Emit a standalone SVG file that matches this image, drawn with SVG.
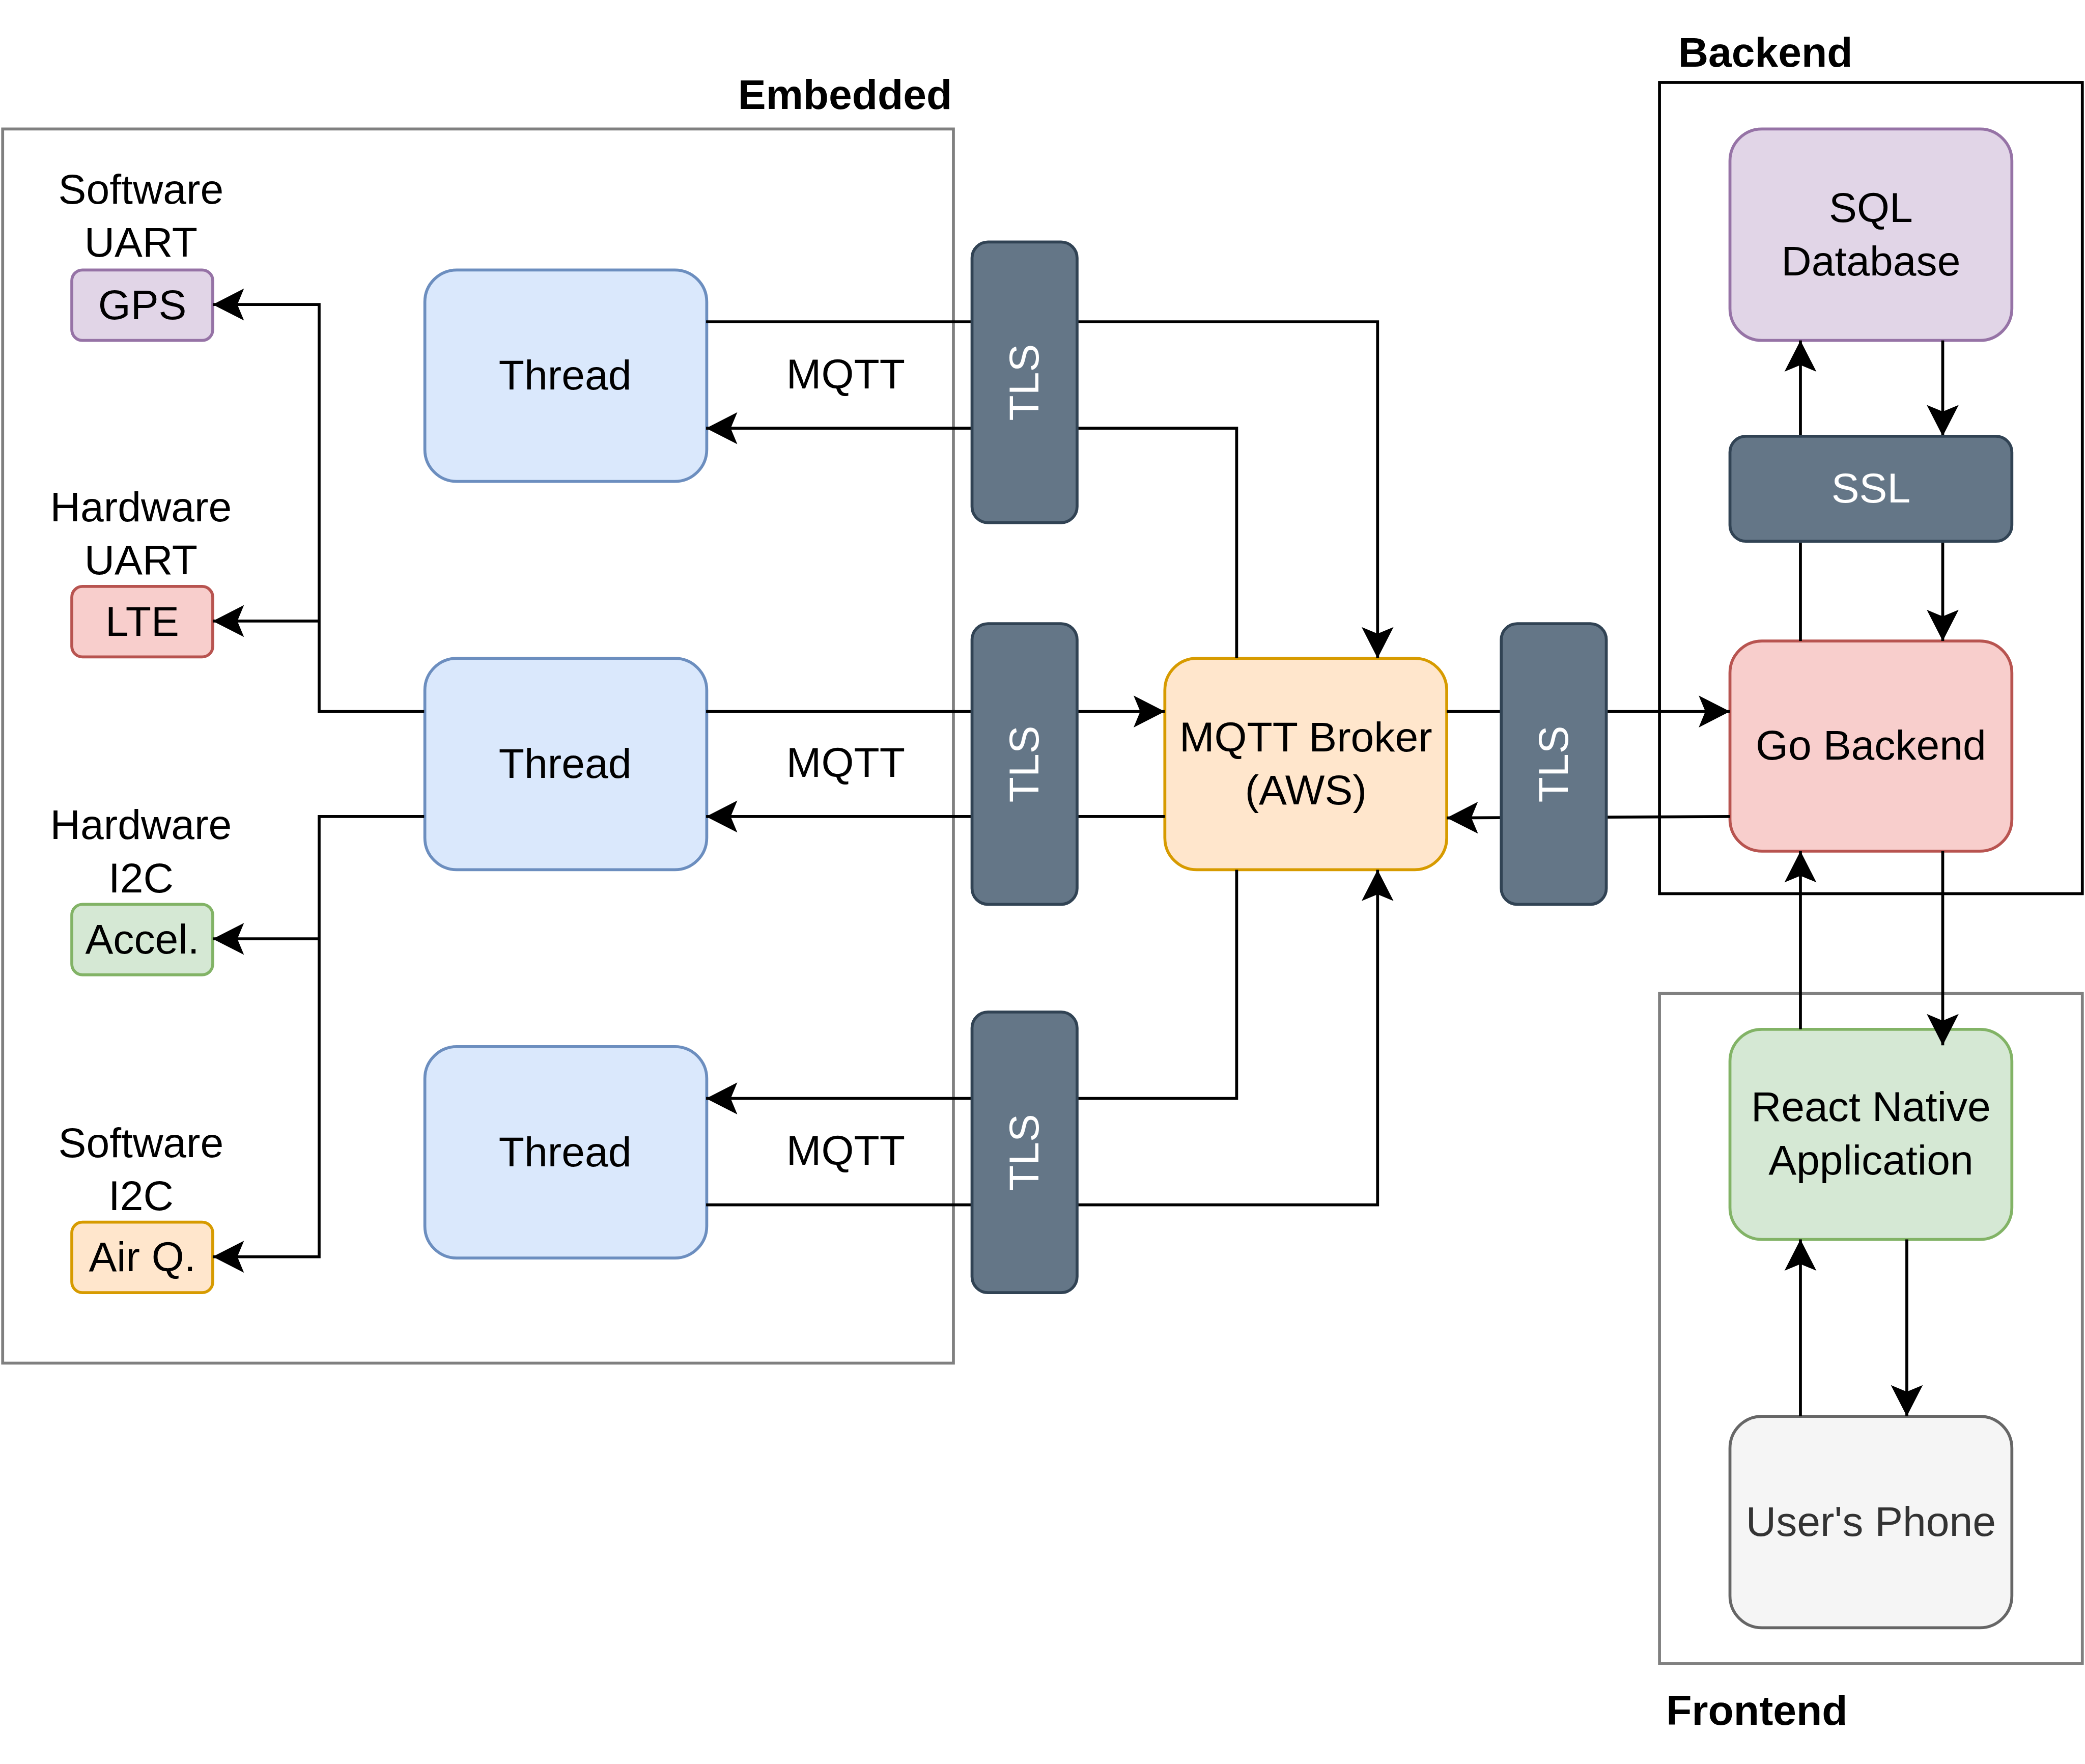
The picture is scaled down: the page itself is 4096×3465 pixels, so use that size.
<svg xmlns="http://www.w3.org/2000/svg" width="4096" height="3465" viewBox="0 0 4096 3465">
<style>
text{font-family:"Liberation Sans",Arial,sans-serif;font-size:31.5px;fill:#000}
.c{text-anchor:middle}
.b{font-weight:bold}
.w{fill:#fff}
.g{fill:#333}
.cont{fill:none;stroke-width:2.2}
.n{stroke-width:2.2}
.blue{fill:#dae8fc;stroke:#6c8ebf}
.purple{fill:#e1d5e7;stroke:#9673a6}
.red{fill:#f8cecc;stroke:#b85450}
.green{fill:#d5e8d4;stroke:#82b366}
.orange{fill:#ffe6cc;stroke:#d79b00}
.slate{fill:#647687;stroke:#314354}
.grey{fill:#f5f5f5;stroke:#666}
.e{fill:none;stroke:#000;stroke-width:2.2;marker-end:url(#arr)}
</style>
<defs>
<marker id="arr" markerUnits="userSpaceOnUse" orient="auto" overflow="visible" refX="0" refY="0" markerWidth="1" markerHeight="1">
<path d="M0,0 L-23.5,-12 L-18.5,0 L-23.5,12 Z" fill="#000"/>
</marker>
</defs>
<rect width="4096" height="3465" fill="#fff"/>
<g transform="scale(2.61224)">
<g id="containers">
<g id="embedded"><rect class="cont" x="2" y="97" width="715" height="928" stroke="#808080"/><text class="b" x="716" y="82" text-anchor="end">Embedded</text></g>
<g id="backend"><rect class="cont" x="1248" y="62" width="318" height="610" stroke="#000"/><text class="b" x="1262" y="50">Backend</text></g>
<g id="frontend"><rect class="cont" x="1248" y="747" width="318" height="504" stroke="#808080"/><text class="b" x="1253" y="1297">Frontend</text></g>
</g>
<g id="labels">
<text class="c" x="106" y="153">Software</text><text class="c" x="106" y="193">UART</text>
<text class="c" x="106" y="392">Hardware</text><text class="c" x="106" y="432">UART</text>
<text class="c" x="106" y="631">Hardware</text><text class="c" x="106" y="671">I2C</text>
<text class="c" x="106" y="870">Software</text><text class="c" x="106" y="910">I2C</text>
<text class="c" x="636" y="292">MQTT</text>
<text class="c" x="636" y="584">MQTT</text>
<text class="c" x="636" y="876">MQTT</text>
</g>
<g id="gps"><rect class="n purple" x="54" y="203" width="106" height="53" rx="8"/><text class="c" x="107" y="240">GPS</text></g>
<g id="lte"><rect class="n red" x="54" y="441" width="106" height="53" rx="8"/><text class="c" x="107" y="478">LTE</text></g>
<g id="accel"><rect class="n green" x="54" y="680" width="106" height="53" rx="8"/><text class="c" x="107" y="717">Accel.</text></g>
<g id="airq"><rect class="n orange" x="54" y="919" width="106" height="53" rx="8"/><text class="c" x="107" y="956">Air Q.</text></g>
<g id="thread1"><rect class="n blue" x="319.5" y="203" width="212" height="159" rx="24"/><text class="c" x="425" y="293">Thread</text></g>
<g id="thread2"><rect class="n blue" x="319.5" y="495" width="212" height="159" rx="24"/><text class="c" x="425" y="585">Thread</text></g>
<g id="thread3"><rect class="n blue" x="319.5" y="787" width="212" height="159" rx="24"/><text class="c" x="425" y="877">Thread</text></g>
<g id="broker"><rect class="n orange" x="876" y="495" width="212" height="159" rx="24"/><text class="c" x="982" y="565">MQTT Broker</text><text class="c" x="982" y="605">(AWS)</text></g>
<g id="sql"><rect class="n purple" x="1301" y="97" width="212" height="159" rx="24"/><text class="c" x="1407" y="167">SQL</text><text class="c" x="1407" y="207">Database</text></g>
<g id="go"><rect class="n red" x="1301" y="482" width="212" height="158" rx="24"/><text class="c" x="1407" y="571">Go Backend</text></g>
<g id="react"><rect class="n green" x="1301" y="774" width="212" height="158" rx="24"/><text class="c" x="1407" y="843">React Native</text><text class="c" x="1407" y="883">Application</text></g>
<g id="phone"><rect class="n grey" x="1301" y="1065" width="212" height="159" rx="24"/><text class="c g" x="1407" y="1155">User's Phone</text></g>
<g id="connectors">
<path class="e" d="M531,242 H1036 V495"/>
<path class="e" d="M930,495 V322 H531"/>
<path class="e" d="M531,535 H876"/>
<path class="e" d="M876,614 H531"/>
<path class="e" d="M930,654 V826 H531"/>
<path class="e" d="M531,906 H1036 V654"/>
<path class="e" d="M1088,535 H1301"/>
<path class="e" d="M1301,614 L1088,615"/>
<path class="e" d="M319,535 H240 V229 H160"/>
<path class="e" d="M240,467 H160"/>
<path class="e" d="M319,614 H240 V945 H160"/>
<path class="e" d="M240,706 H160"/>
<path class="e" d="M1354,482 V256"/>
<path class="e" d="M1461,256 V328"/>
<path class="e" d="M1461,407 V482"/>
<path class="e" d="M1354,774 V640"/>
<path class="e" d="M1461,640 V786"/>
<path class="e" d="M1354,1065 V932"/>
<path class="e" d="M1434,932 V1065"/>
</g>
<g id="tls1"><rect class="n slate" x="731" y="182" width="79" height="211" rx="12"/><text class="c w" transform="translate(770.5,287.5) rotate(-90)" x="0" y="10.5">TLS</text></g>
<g id="tls2"><rect class="n slate" x="731" y="469" width="79" height="211" rx="12"/><text class="c w" transform="translate(770.5,574.5) rotate(-90)" x="0" y="10.5">TLS</text></g>
<g id="tls3"><rect class="n slate" x="731" y="761" width="79" height="211" rx="12"/><text class="c w" transform="translate(770.5,866.5) rotate(-90)" x="0" y="10.5">TLS</text></g>
<g id="tls4"><rect class="n slate" x="1129" y="469" width="79" height="211" rx="12"/><text class="c w" transform="translate(1168.5,574.5) rotate(-90)" x="0" y="10.5">TLS</text></g>
<g id="ssl"><rect class="n slate" x="1301" y="328" width="212" height="79" rx="12"/><text class="c w" x="1407" y="378">SSL</text></g>
</g>
</svg>
